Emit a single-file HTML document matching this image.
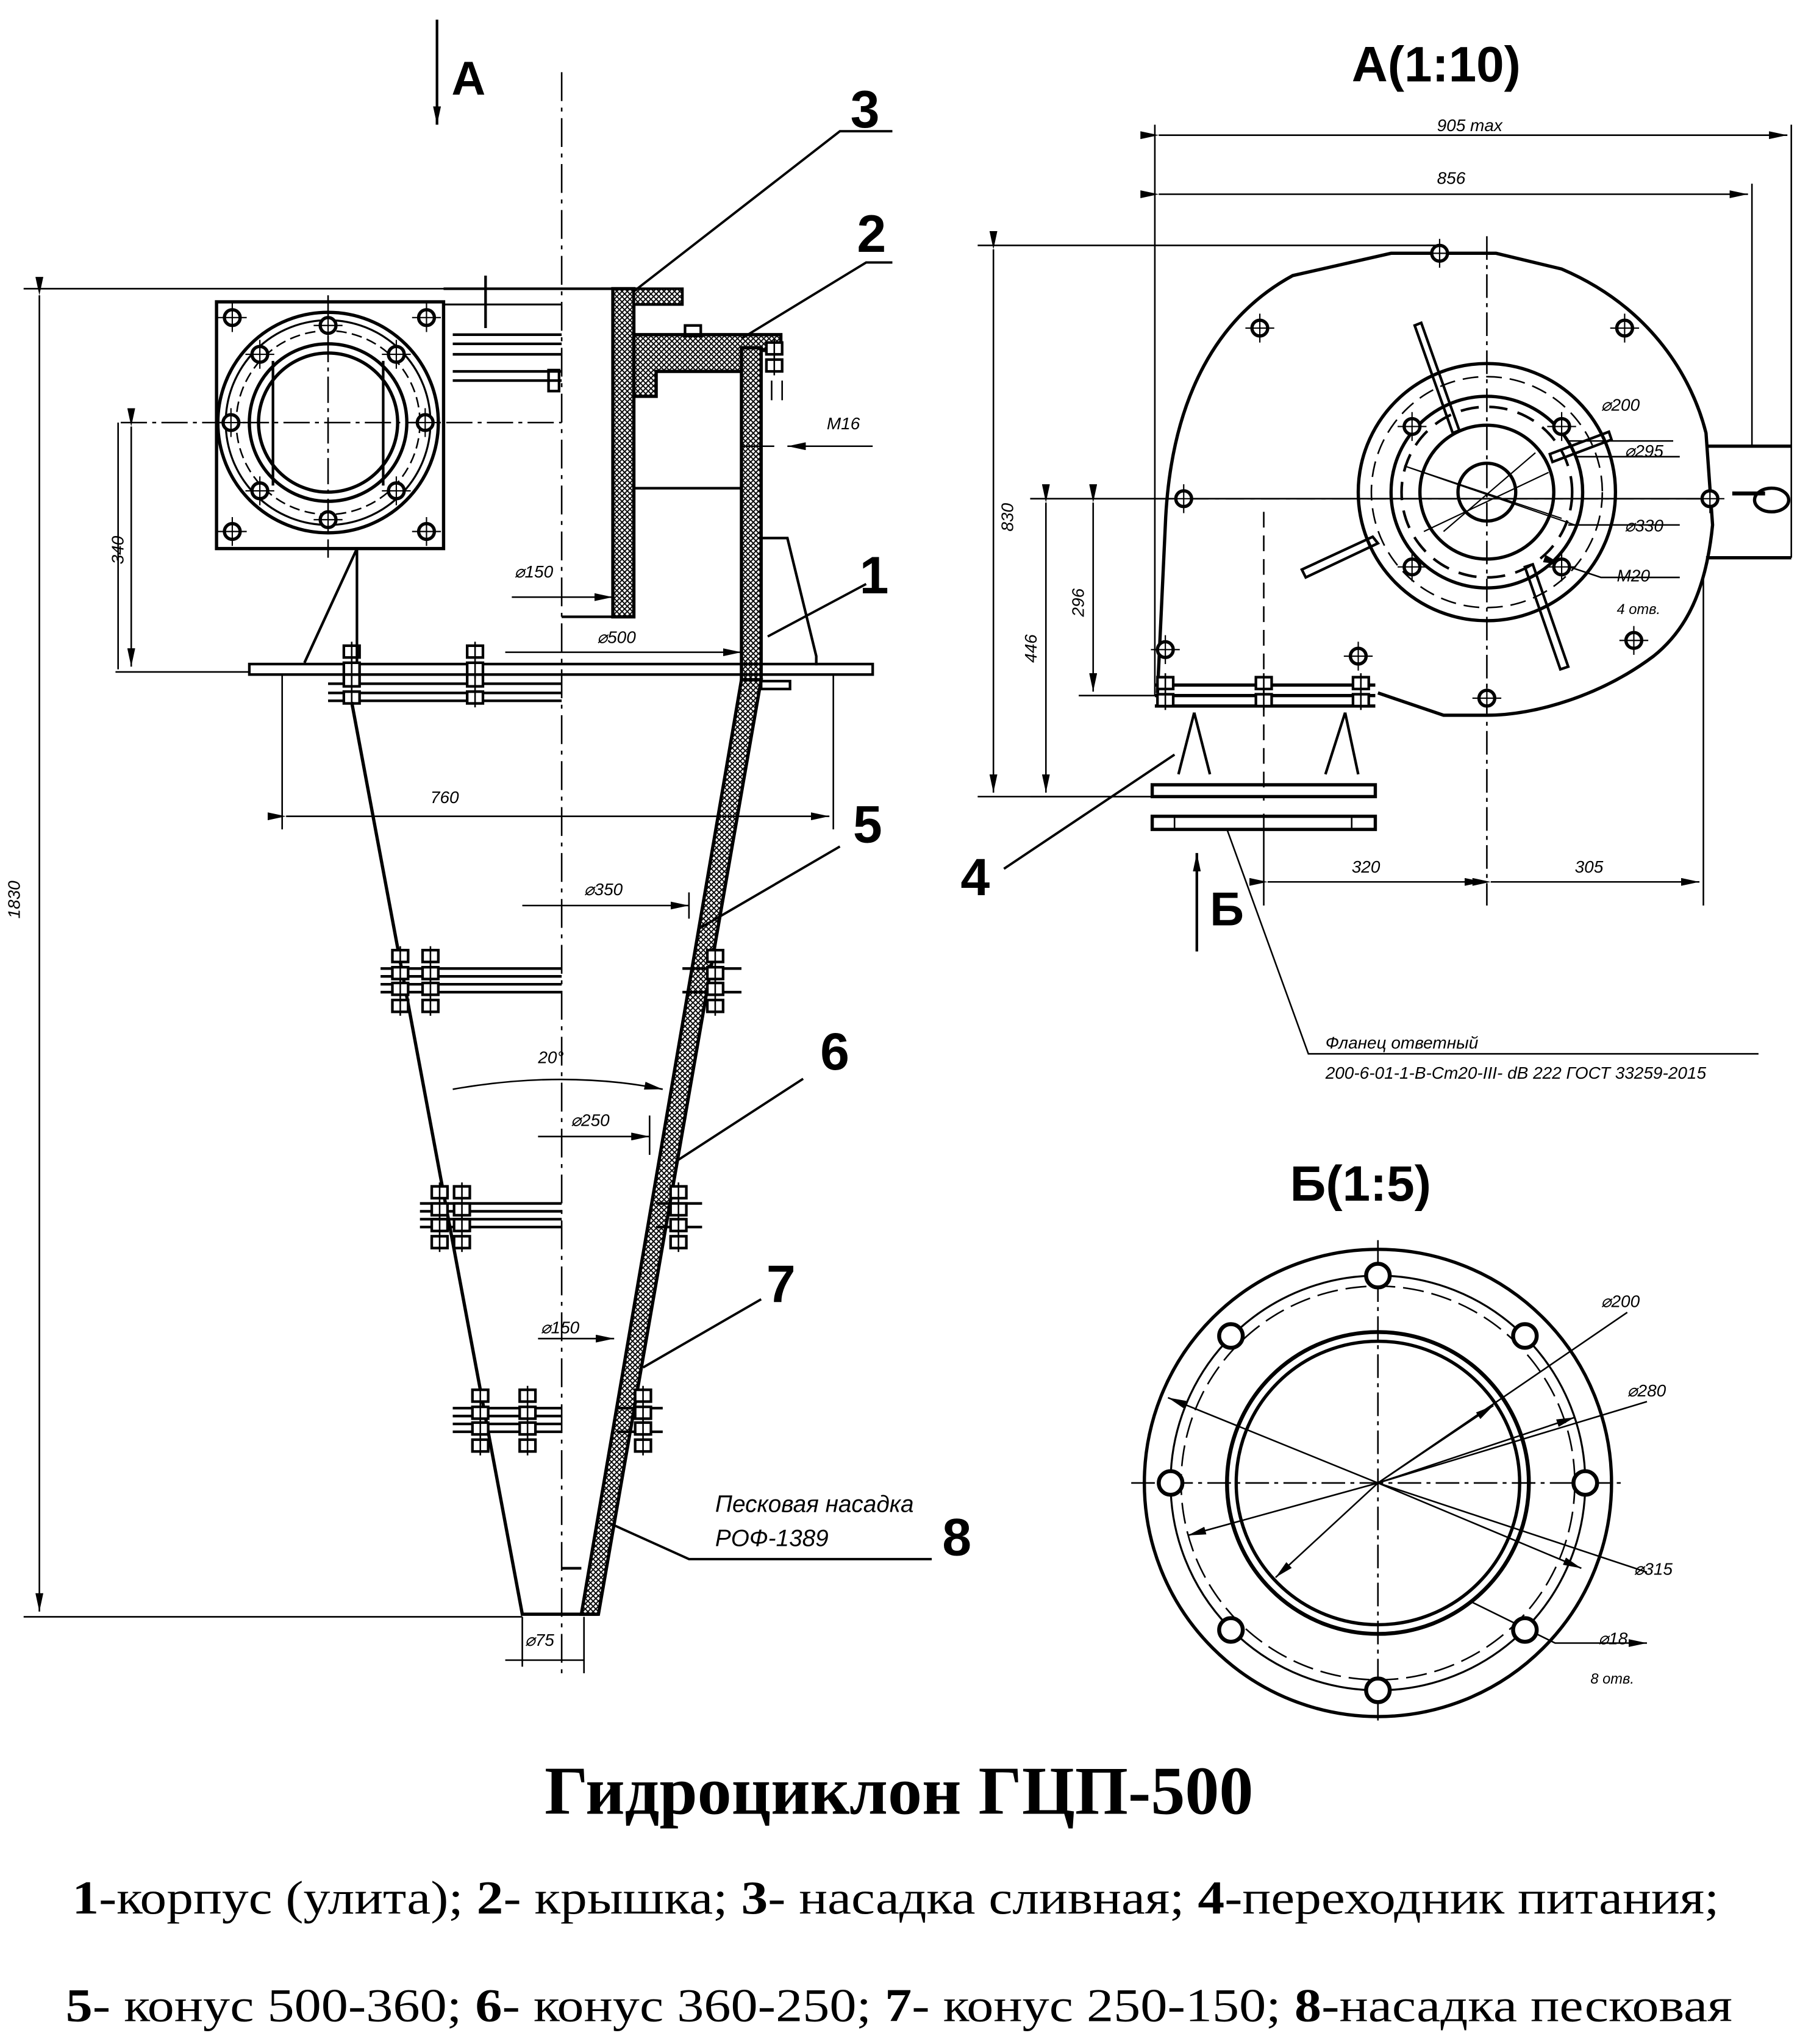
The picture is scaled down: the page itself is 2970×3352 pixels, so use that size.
<!DOCTYPE html>
<html><head><meta charset="utf-8"><style>
html,body{margin:0;padding:0;background:#fff}
svg{display:block}
.t{font-family:"Liberation Sans",sans-serif;font-style:italic;font-size:13px}
.n{font-family:"Liberation Sans",sans-serif;font-weight:bold;font-size:40px}
.s{font-family:"Liberation Serif","DejaVu Serif",serif;font-size:36px}
</style></head><body>
<svg width="2970" height="3352" viewBox="0 0 1380 1557.5" xmlns="http://www.w3.org/2000/svg">
<defs>
<pattern id="h" width="4" height="4" patternUnits="userSpaceOnUse"><rect width="4" height="4" fill="#fff"/><path d="M0 0L4 4M4 0L0 4" stroke="#000" stroke-width="0.9"/></pattern>
<marker id="a" markerWidth="14" markerHeight="6" refX="14" refY="3" orient="auto" markerUnits="userSpaceOnUse"><path d="M0 0L14 3L0 6z" fill="#000"/></marker>
<symbol id="b" viewBox="-12 -12 24 24" overflow="visible"><circle r="6" fill="#fff" stroke="#000" stroke-width="2.5"/><path d="M-11 0H11M0 -11V11" stroke="#000" stroke-width="1"/></symbol>
<symbol id="nut" viewBox="-8 -12 16 24" overflow="visible"><rect x="-6" y="-11" width="12" height="9" fill="#fff" stroke="#000" stroke-width="2"/><rect x="-6" y="2" width="12" height="9" fill="#fff" stroke="#000" stroke-width="2"/><path d="M0 -14V14" stroke="#000"/></symbol>
</defs>
<g fill="none" stroke="#000" stroke-width="1.2">
<path d="M428 55V1275" stroke-dasharray="22 5 3 5"/>
<path d="M333 15V95" stroke-width="2" marker-end="url(#a)"/>
<rect x="165" y="230" width="173" height="188" stroke-width="2.5"/>
<circle cx="250" cy="322" r="84" stroke-width="2.5"/>
<circle cx="250" cy="322" r="78" stroke-width="1.5"/>
<circle cx="250" cy="322" r="70" stroke-dasharray="8 4"/>
<circle cx="250" cy="322" r="60" stroke-width="2.5"/>
<circle cx="250" cy="322" r="53" stroke-width="2.5"/>
<path d="M208 275V370M292 275V370" stroke-width="2"/>
<path d="M92 322H428M250 225V425" stroke-dasharray="20 4 3 4"/>
<use href="#b" x="177" y="242" width="24" height="24" transform="translate(-12 -12)"/>
<use href="#b" x="325" y="242" width="24" height="24" transform="translate(-12 -12)"/>
<use href="#b" x="177" y="405" width="24" height="24" transform="translate(-12 -12)"/>
<use href="#b" x="325" y="405" width="24" height="24" transform="translate(-12 -12)"/>
<use href="#b" x="250" y="248" width="24" height="24" transform="translate(-12 -12)"/>
<use href="#b" x="250" y="396" width="24" height="24" transform="translate(-12 -12)"/>
<use href="#b" x="176" y="322" width="24" height="24" transform="translate(-12 -12)"/>
<use href="#b" x="324" y="322" width="24" height="24" transform="translate(-12 -12)"/>
<use href="#b" x="198" y="270" width="24" height="24" transform="translate(-12 -12)"/>
<use href="#b" x="302" y="270" width="24" height="24" transform="translate(-12 -12)"/>
<use href="#b" x="198" y="374" width="24" height="24" transform="translate(-12 -12)"/>
<use href="#b" x="302" y="374" width="24" height="24" transform="translate(-12 -12)"/>
<path d="M338 220H467M338 232V300M345 255H428M345 262H428M345 270H428M345 283H428M345 290H428M370 210V250" stroke-width="2"/>
<path d="M338 232H428" stroke-width="1.5"/>
<rect x="418" y="282" width="8" height="16" stroke-width="2"/>
<path d="M467 220H483V470H467Z" fill="url(#h)" stroke-width="2.5"/>
<path d="M483 220H520V232H483Z" fill="url(#h)" stroke-width="2"/>
<path d="M428 470H467" stroke-width="2"/>
<path d="M483 255H595V267H580V283H500V302H483Z" fill="url(#h)" stroke-width="2.5"/>
<path d="M483 372H565" stroke-width="2"/>
<use href="#nut" x="590" y="272" width="16" height="24" transform="translate(-8 -12)"/>
<rect x="522" y="248" width="12" height="8" stroke-width="2"/>
<path d="M588 290V305M596 290V305" />
<path d="M565 265H580V518H565Z" fill="url(#h)" stroke-width="2.5"/>
<path d="M580 410H600L622 500V507" stroke-width="2"/>
<rect x="190" y="506" width="475" height="8" stroke-width="2"/>
<rect x="580" y="519" width="22" height="6" stroke-width="2"/>
<path d="M250 521H428M250 528H428M250 534H428" stroke-width="2"/>
<use href="#nut" x="268" y="525" width="16" height="24" transform="translate(-8 -12)"/>
<use href="#nut" x="362" y="525" width="16" height="24" transform="translate(-8 -12)"/>
<use href="#nut" x="268" y="503" width="16" height="24" transform="translate(-8 -12)"/>
<use href="#nut" x="362" y="503" width="16" height="24" transform="translate(-8 -12)"/>
<path d="M272 418L232 505M272 418V505" stroke-width="2"/>
<path d="M565 518L580 518L456 1230L443 1230Z" fill="url(#h)" stroke-width="2.5"/>
<path d="M268 535L398 1230H456" stroke-width="2.5"/>
<path d="M428 1195H443" stroke-width="2"/>
<g stroke-width="2">
<path d="M290 738H428M290 744H428M290 750H428M290 756H428"/>
<path d="M520 738H565M520 756H565"/>
<path d="M320 917H428M320 923H428M320 929H428M320 935H428"/>
<path d="M500 917H535M500 935H535"/>
<path d="M345 1073H428M345 1079H428M345 1085H428M345 1091H428"/>
<path d="M470 1073H505M470 1091H505"/>
</g>
<use href="#nut" x="305" y="735" width="16" height="24" transform="translate(-8 -12)"/>
<use href="#nut" x="305" y="760" width="16" height="24" transform="translate(-8 -12)"/>
<use href="#nut" x="328" y="735" width="16" height="24" transform="translate(-8 -12)"/>
<use href="#nut" x="328" y="760" width="16" height="24" transform="translate(-8 -12)"/>
<use href="#nut" x="545" y="735" width="16" height="24" transform="translate(-8 -12)"/>
<use href="#nut" x="545" y="760" width="16" height="24" transform="translate(-8 -12)"/>
<use href="#nut" x="335" y="915" width="16" height="24" transform="translate(-8 -12)"/>
<use href="#nut" x="335" y="940" width="16" height="24" transform="translate(-8 -12)"/>
<use href="#nut" x="352" y="915" width="16" height="24" transform="translate(-8 -12)"/>
<use href="#nut" x="352" y="940" width="16" height="24" transform="translate(-8 -12)"/>
<use href="#nut" x="517" y="915" width="16" height="24" transform="translate(-8 -12)"/>
<use href="#nut" x="517" y="940" width="16" height="24" transform="translate(-8 -12)"/>
<use href="#nut" x="366" y="1070" width="16" height="24" transform="translate(-8 -12)"/>
<use href="#nut" x="366" y="1095" width="16" height="24" transform="translate(-8 -12)"/>
<use href="#nut" x="402" y="1070" width="16" height="24" transform="translate(-8 -12)"/>
<use href="#nut" x="402" y="1095" width="16" height="24" transform="translate(-8 -12)"/>
<use href="#nut" x="490" y="1070" width="16" height="24" transform="translate(-8 -12)"/>
<use href="#nut" x="490" y="1095" width="16" height="24" transform="translate(-8 -12)"/>
<path d="M18 220H467M18 1232H398"/>
<path d="M30 225V1228" marker-start="url(#a)" marker-end="url(#a)"/>
<path d="M90 322V510M88 512H190"/>
<path d="M100 325V508" marker-start="url(#a)" marker-end="url(#a)"/>
<path d="M215 514V632M635 514V632"/>
<path d="M218 622H632" marker-start="url(#a)" marker-end="url(#a)"/>
<path d="M398 690H525" marker-end="url(#a)"/><path d="M525 680V700"/>
<path d="M410 866H495" marker-end="url(#a)"/><path d="M495 850V880"/>
<path d="M410 1020H468" marker-end="url(#a)"/>
<path d="M385 1265H445"/><path d="M445 1232V1275"/><path d="M398 1232V1270"/>
<path d="M385 497H565" marker-end="url(#a)"/>
<path d="M390 455H467" marker-end="url(#a)"/>
<path d="M565 340H590M665 340H600" marker-end="url(#a)"/>
<path d="M345 830Q430 815 505 830" marker-end="url(#a)"/>
<path d="M483 222L640 100H680M565 258L660 200H680M585 485L660 445M532 708L640 645M515 885L612 822M490 1042L580 990M463 1160L525 1188H710" stroke-width="1.8"/>
<path d="M880 95V530M1365 95V425M1335 140V340"/>
<path d="M883 103H1362" marker-start="url(#a)" marker-end="url(#a)"/>
<path d="M883 148H1332" marker-start="url(#a)" marker-end="url(#a)"/>
<path d="M745 187H1100M745 607H880"/>
<path d="M757 190V604" marker-start="url(#a)" marker-end="url(#a)"/>
<path d="M785 380H1300M785 607H880"/>
<path d="M797 383V604" marker-start="url(#a)" marker-end="url(#a)"/>
<path d="M822 530H880"/>
<path d="M833 383V527" marker-start="url(#a)" marker-end="url(#a)"/>
<path d="M1133 180V690" stroke-dasharray="18 4 3 4"/>
<path d="M963 390V610" stroke-dasharray="12 6"/>
<path d="M963 620V690M1298 440V690"/>
<path d="M966 672H1130" marker-start="url(#a)" marker-end="url(#a)"/>
<path d="M1136 672H1295" marker-start="url(#a)" marker-end="url(#a)"/>
<path d="M882 528L888 400C892 300 930 240 985 210L1060 193H1140L1190 205C1260 235 1290 290 1300 330L1305 400C1300 450 1285 480 1260 500C1220 530 1170 545 1133 545L1100 545L1050 528" stroke-width="2.5"/>
<path d="M1300 340H1365M1300 425H1365" stroke-width="2.5"/>
<path d="M1320 376H1345" stroke-width="3"/>
<ellipse cx="1350" cy="381" rx="13" ry="9" stroke-width="2.5"/>
<circle cx="1133" cy="375" r="98" stroke-width="2.5"/>
<circle cx="1133" cy="375" r="88" stroke-dasharray="12 6"/>
<circle cx="1133" cy="375" r="73" stroke-width="2.5"/>
<circle cx="1133" cy="375" r="65" stroke-dasharray="14 8" stroke-width="2"/>
<circle cx="1133" cy="375" r="51" stroke-width="2.5"/>
<circle cx="1133" cy="375" r="22" stroke-width="2.5"/>
<path d="M880 380H1300" stroke-dasharray="14 5 3 5"/>
<g stroke-width="2">
<path d="M1078 248L1083 246L1112 328L1107 330Z"/>
<path d="M1226 329L1228 335L1183 352L1181 346Z"/>
<path d="M1046 409L1050 414L995 440L992 434Z"/>
<path d="M1162 432L1168 430L1195 508L1189 510Z"/>
</g>
<path d="M1070 355L1200 400M1100 405L1170 345M1085 405L1180 360M1070 355L1190 395" stroke-width="1"/>
<path d="M1195 336L1275 336M1200 348L1280 348M1195 400L1280 400" />
<path d="M1190 430L1220 440L1280 440" marker-start="url(#a)"/>
<g>
<use href="#b" x="1097" y="193" width="24" height="24" transform="translate(-12 -12)"/>
<use href="#b" x="960" y="250" width="24" height="24" transform="translate(-12 -12)"/>
<use href="#b" x="1238" y="250" width="24" height="24" transform="translate(-12 -12)"/>
<use href="#b" x="902" y="380" width="24" height="24" transform="translate(-12 -12)"/>
<use href="#b" x="1303" y="380" width="24" height="24" transform="translate(-12 -12)"/>
<use href="#b" x="1245" y="488" width="24" height="24" transform="translate(-12 -12)"/>
<use href="#b" x="1133" y="532" width="24" height="24" transform="translate(-12 -12)"/>
<use href="#b" x="888" y="495" width="24" height="24" transform="translate(-12 -12)"/>
<use href="#b" x="1035" y="500" width="24" height="24" transform="translate(-12 -12)"/>
<use href="#b" x="1076" y="325" width="24" height="24" transform="translate(-12 -12)"/>
<use href="#b" x="1190" y="325" width="24" height="24" transform="translate(-12 -12)"/>
<use href="#b" x="1076" y="432" width="24" height="24" transform="translate(-12 -12)"/>
<use href="#b" x="1190" y="432" width="24" height="24" transform="translate(-12 -12)"/>
</g>
<path d="M880 522H1048M880 530H1048M880 538H1048" stroke-width="2.5"/>
<use href="#nut" x="888" y="527" width="16" height="24" transform="translate(-8 -12)"/>
<use href="#nut" x="963" y="527" width="16" height="24" transform="translate(-8 -12)"/>
<use href="#nut" x="1037" y="527" width="16" height="24" transform="translate(-8 -12)"/>
<path d="M910 543L898 590M910 543L922 590M1025 543L1010 590M1025 543L1035 590" stroke-width="2"/>
<rect x="878" y="598" width="170" height="9" stroke-width="2.5"/>
<rect x="878" y="622" width="170" height="10" stroke-width="2.5"/>
<path d="M895 622V632M1030 622V632"/>
<path d="M895 575L765 662" stroke-width="1.8"/>
<path d="M912 725V650" stroke-width="2" marker-end="url(#a)"/>
<path d="M935 632L997 803H1340"/>
<circle cx="1050" cy="1130" r="178" stroke-width="2.5"/>
<circle cx="1050" cy="1130" r="158" stroke-width="1.5"/>
<circle cx="1050" cy="1130" r="150" stroke-dasharray="16 6"/>
<circle cx="1050" cy="1130" r="115" stroke-width="3"/>
<circle cx="1050" cy="1130" r="108" stroke-width="2.5"/>
<path d="M862 1130H1238M1050 945V1315" stroke-dasharray="18 4 3 4"/>
<path d="M1050 1130L1240 1000M1050 1130L1255 1068M1050 1130L1255 1198" />
<path d="M1050 1130L1138 1071" marker-end="url(#a)"/>
<path d="M1050 1130L1200 1080" marker-end="url(#a)"/>
<path d="M1050 1130L1205 1195" marker-end="url(#a)"/>
<path d="M1050 1130L972 1202" marker-end="url(#a)"/>
<path d="M1050 1130L890 1065" marker-end="url(#a)"/>
<path d="M1050 1130L905 1170" marker-end="url(#a)"/>
<path d="M1120 1220L1185 1252H1255" marker-end="url(#a)"/>
<g>
<circle cx="1050" cy="972" r="9" stroke-width="3" fill="#fff"/>
<circle cx="1050" cy="1288" r="9" stroke-width="3" fill="#fff"/>
<circle cx="892" cy="1130" r="9" stroke-width="3" fill="#fff"/>
<circle cx="1208" cy="1130" r="9" stroke-width="3" fill="#fff"/>
<circle cx="938" cy="1018" r="9" stroke-width="3" fill="#fff"/>
<circle cx="1162" cy="1018" r="9" stroke-width="3" fill="#fff"/>
<circle cx="938" cy="1242" r="9" stroke-width="3" fill="#fff"/>
<circle cx="1162" cy="1242" r="9" stroke-width="3" fill="#fff"/>
</g>
</g>
<g fill="#000">
<text class="n" x="344" y="72" style="font-size:36px">A</text>
<text class="n" x="648" y="97">3</text>
<text class="n" x="653" y="192">2</text>
<text class="n" x="655" y="452">1</text>
<text class="n" x="650" y="642">5</text>
<text class="n" x="625" y="815">6</text>
<text class="n" x="584" y="992">7</text>
<text class="n" x="718" y="1185">8</text>
<text class="n" x="732" y="682">4</text>
<text class="n" x="922" y="705" style="font-size:36px">Б</text>
<text class="n" x="1030" y="62" style="font-size:38px">A(1:10)</text>
<text class="n" x="983" y="915" style="font-size:38px">Б(1:5)</text>
<text class="t" x="1095" y="100">905 max</text>
<text class="t" x="1095" y="140">856</text>
<text class="t" x="1030" y="665">320</text>
<text class="t" x="1200" y="665">305</text>
<text class="t" transform="translate(772 405) rotate(-90)">830</text>
<text class="t" transform="translate(790 505) rotate(-90)">446</text>
<text class="t" transform="translate(826 470) rotate(-90)">296</text>
<text class="t" x="1220" y="313">⌀200</text>
<text class="t" x="1238" y="348">⌀295</text>
<text class="t" x="1238" y="405">⌀330</text>
<text class="t" x="1232" y="443">M20</text>
<text class="t" x="1232" y="468" style="font-size:11px">4 отв.</text>
<text class="t" x="1010" y="799">Фланец ответный</text>
<text class="t" x="1010" y="822">200-6-01-1-В-Ст20-III- dВ 222 ГОСТ 33259-2015</text>
<text class="t" x="1220" y="996">⌀200</text>
<text class="t" x="1240" y="1064">⌀280</text>
<text class="t" x="1245" y="1200">⌀315</text>
<text class="t" x="1218" y="1253">⌀18</text>
<text class="t" x="1212" y="1283" style="font-size:11px">8 отв.</text>
<text class="t" transform="translate(15 700) rotate(-90)">1830</text>
<text class="t" transform="translate(94 430) rotate(-90)">340</text>
<text class="t" x="328" y="612">760</text>
<text class="t" x="445" y="682">⌀350</text>
<text class="t" x="435" y="858">⌀250</text>
<text class="t" x="412" y="1016">⌀150</text>
<text class="t" x="400" y="1254">⌀75</text>
<text class="t" x="455" y="490">⌀500</text>
<text class="t" x="392" y="440">⌀150</text>
<text class="t" x="630" y="327">M16</text>
<text class="t" x="410" y="810">20°</text>
<text class="t" x="545" y="1152" style="font-size:18px">Песковая насадка</text>
<text class="t" x="545" y="1178" style="font-size:18px">РОФ-1389</text>
<text class="s" x="415" y="1382" textLength="540" lengthAdjust="spacingAndGlyphs" style="font-weight:bold;font-size:52px">Гидроциклон ГЦП-500</text>
<text class="s" x="55" y="1458" textLength="1255" lengthAdjust="spacingAndGlyphs"><tspan font-weight="bold">1</tspan>-корпус (улита); <tspan font-weight="bold">2</tspan>- крышка; <tspan font-weight="bold">3</tspan>- насадка сливная; <tspan font-weight="bold">4</tspan>-переходник питания;</text>
<text class="s" x="50" y="1540" textLength="1270" lengthAdjust="spacingAndGlyphs"><tspan font-weight="bold">5</tspan>- конус 500-360; <tspan font-weight="bold">6</tspan>- конус 360-250; <tspan font-weight="bold">7</tspan>- конус 250-150; <tspan font-weight="bold">8</tspan>-насадка песковая</text>
</g>
</svg>
</body></html>
